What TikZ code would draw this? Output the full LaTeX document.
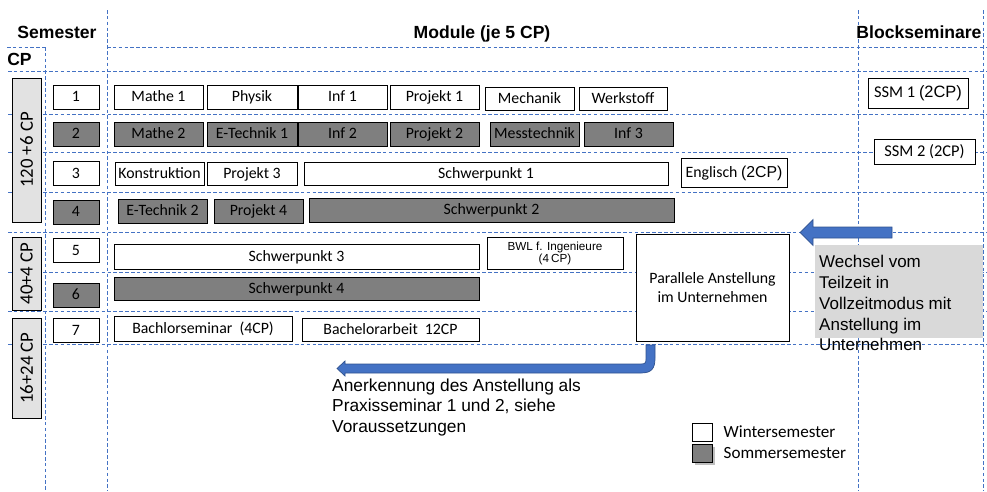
\documentclass[tikz,border=0pt]{standalone}
\usepackage{fontspec}
\setmainfont{Carlito}
\newfontfamily\arial{Liberation Sans}
\usepackage{xcolor}
\usepackage{tikz}
\usetikzlibrary{positioning,calc}
\definecolor{rasterblau}{HTML}{4472C4}
\definecolor{pfeilrand}{HTML}{2F528F}
\definecolor{dunkelgrau}{HTML}{7F7F7F}
\definecolor{hellgrau}{HTML}{E2E2E2}
\definecolor{boxgrau}{HTML}{D9D9D9}

\begin{document}
\begin{tikzpicture}[x=0.3mm, y=-0.3mm,
    kasten/.style={draw, line width=0.8pt, inner sep=0pt},
    mod/.style={kasten, minimum width=26.7mm, minimum height=7.2mm, text height=10.5pt, text depth=2.5pt, font=\fontsize{13.5}{16}\selectfont},
    win/.style={mod, fill=white},
    som/.style={mod, fill=dunkelgrau},
    sem/.style={minimum width=13.8mm},
    cpbox/.style={kasten, fill=hellgrau, rotate=90, minimum height=8.7mm, font=\fontsize{16}{18}\selectfont},
    raster/.style={rasterblau, dash pattern=on 3pt off 2pt, line width=0.6pt},
    kopf/.style={anchor=base, inner sep=0pt, font=\arial\bfseries\fontsize{15}{18}\selectfont},
    pfeil/.style={fill=rasterblau, draw=pfeilrand, line width=0.6pt}]
    \useasboundingbox (0,0) rectangle (987,491);

    % Raster
    \draw[raster] (7,47) -- (45,47);
    \draw[raster] (107,47) -- (987,47);
    \draw[raster] (8,71) -- (987,71);
    \draw[raster] (8,114) -- (987,114);
    \draw[raster] (8,152) -- (987,152);
    \draw[raster] (8,192) -- (987,192);
    \draw[raster] (8,232.5) -- (987,232.5);
    \draw[raster] (8,272) -- (987,272);
    \draw[raster] (8,311) -- (987,311);
    \draw[raster] (8,344) -- (987,344);
    \draw[raster] (45,47) -- (45,491);
    \draw[raster] (107,10) -- (107,491);
    \draw[raster] (858,10) -- (858,491);
    \draw[raster] (983,10) -- (983,491);

    % Kopfzeile
    \node[kopf] (semkopf) at (57,38) {Semester};
    \node[kopf] (modkopf) at (482,38) {Module (je 5 CP)};
    \node[kopf] (blockkopf) at (919,38) {Blockseminare};
    \node[kopf] (cpkopf) at (19.5,65) {CP};

    % CP
    \node[cpbox, minimum width=43.2mm] (cpa) at (26.5,150) {120 +6 CP};
    \node[cpbox, minimum width=21.9mm] (cpb) at (26.5,273.5) {40+4 CP};
    \node[cpbox, minimum width=30mm] (cpc) at (26.5,368) {16+24 CP};

    % Semester
    \node[win, sem] (s1) at (76,97) {1};
    \node[som, sem] (s2) at (76,134) {2};
    \node[win, sem] (s3) at (76,173.5) {3};
    \node[som, sem] (s4) at (76,212) {4};
    \node[win, sem] (s5) at (76,250.5) {5};
    \node[som, sem] (s6) at (76,295) {6};
    \node[win, sem] (s7) at (76,330.5) {7};

    % Module
    \node[win] (mathe1) at (158.5,97) {Mathe 1};
    \node[win, minimum width=27mm] (physik) at (252,97) {Physik};
    \node[win] (inf1) at (342.5,97) {Inf 1};
    \node[win] (projekt1) at (434.5,97) {Projekt 1};
    \node[win, minimum height=6.9mm] (mechanik) at (529.5,98.5) {Mechanik};
    \node[win, minimum width=26.4mm, minimum height=6.9mm] (werkstoff) at (623,98.5) {Werkstoff};

    \node[som] (mathe2) at (158.5,134) {Mathe 2};
    \node[som, minimum width=27mm] (etech1) at (252,134) {E-Technik 1};
    \node[som] (inf2) at (342.5,134) {Inf 2};
    \node[som] (projekt2) at (434.5,134) {Projekt 2};
    \node[som] (mess) at (534.5,134) {Messtechnik};
    \node[som] (inf3) at (628.5,134) {Inf 3};

    \node[win, minimum height=6.9mm] (konstr) at (159.5,173.5) {Konstruktion};
    \node[win, minimum width=27mm, minimum height=6.9mm] (projekt3) at (252,173.5) {Projekt 3};
    \node[win, minimum width=109.2mm, minimum height=6.9mm] (sp1) at (486,173.5) {Schwerpunkt 1};
    \node[win, minimum width=31.8mm, minimum height=8.7mm] (englisch) at (734,172.5) {Englisch {\arial(2CP)}};

    \node[som] (etech2) at (162.5,211) {E-Technik 2};
    \node[som] (projekt4) at (258.5,211) {Projekt 4};
    \node[som, minimum width=109.5mm] (sp2) at (491.5,210) {Schwerpunkt 2};

    \node[win, minimum width=109.5mm, minimum height=7.5mm] (sp3) at (296.5,256.5) {Schwerpunkt 3};
    \node[kasten, fill=white, minimum width=40.8mm, minimum height=9.6mm, align=center, font=\arial\fontsize{10}{10.2}\selectfont] (bwl) at (555,253) {BWL f. Ingenieure\\(4\,CP)};
    \node[som, minimum width=109.5mm, minimum height=6.9mm] (sp4) at (296.5,288.5) {Schwerpunkt 4};
    \node[win, minimum width=53.4mm, minimum height=7.5mm] (bsem) at (203,328.5) {Bachlorseminar~~(4CP)};
    \node[win, minimum width=53.1mm, minimum height=6.9mm] (barbeit) at (390.5,329.5) {Bachelorarbeit~~12CP};

    \node[kasten, fill=white, minimum width=45.9mm, minimum height=32.1mm, align=center, font=\fontsize{13.5}{16.2}\selectfont] (par) at (712.5,287.5) {Parallele Anstellung\\im Unternehmen};

    % Blockseminare
    \node[win, minimum width=30mm, minimum height=9mm, font=\fontsize{14}{16}\selectfont] (ssm1) at (918,93) {SSM 1 {\arial(2CP)}};
    \node[win, minimum width=30.3mm, minimum height=7.5mm, font=\fontsize{14}{16}\selectfont] (ssm2) at (924.5,151.5) {SSM 2 (2CP)};

    % Wechsel
    \node[fill=boxgrau, inner sep=0pt, minimum width=50.4mm, minimum height=27.9mm] (wechsel) at (899,291.5) {};
    \node[anchor=north west, inner sep=0pt, align=left, font=\arial\fontsize{14.5}{17.8}\selectfont] (wtext) at (819,255) {Wechsel vom\\Teilzeit in\\Vollzeitmodus mit\\Anstellung im\\Unternehmen};
    \fill[pfeil] (892,227) -- (813,227) -- (813,219.5) -- (800,232.5) -- (813,245.5) -- (813,238) -- (892,238) -- cycle;

    % Anerkennung
    \fill[pfeil] (646,345) -- (655,345) -- (655,358) .. controls (655,368) and (652,373) .. (641,373) -- (345,373) -- (345,376) -- (337,368.5) -- (345,361) -- (345,364) -- (641,364) .. controls (645,364) and (646,363) .. (646,359) -- cycle;
    \node[anchor=north west, inner sep=0pt, align=left, font=\arial\fontsize{14.8}{17.5}\selectfont] (anerk) at (332,378.5) {Anerkennung des Anstellung als\\Praxisseminar 1 und 2, siehe\\Voraussetzungen};

    % Legende
    \fill[black!25] (694.5,446.5) rectangle (714.5,464.5);
    \node[kasten, fill=white, minimum width=6mm, minimum height=5.4mm] (lw) at (702,432) {};
    \node[kasten, fill=dunkelgrau, minimum width=6mm, minimum height=5.4mm] (ls) at (702,453) {};
    \node[right=3.3mm of lw, inner sep=0pt, font=\fontsize{14.6}{18}\selectfont] (lwt) {Wintersemester};
    \node[right=3.3mm of ls, inner sep=0pt, font=\fontsize{14.6}{18}\selectfont] (lst) {Sommersemester};
\end{tikzpicture}
\end{document}
